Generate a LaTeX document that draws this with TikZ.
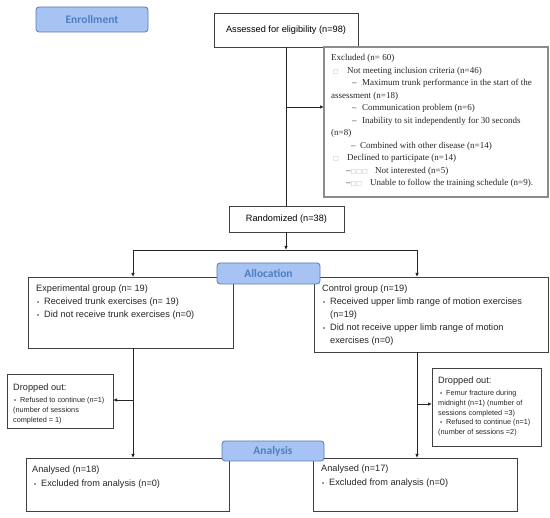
\documentclass[tikz,border=0pt]{standalone}
\usepackage{fontspec}
\setmainfont{Liberation Sans}
\newfontfamily\serifx{Liberation Serif}
\newfontfamily\labf{Carlito}
\newfontfamily\dejavu{DejaVu Sans}
\usetikzlibrary{arrows.meta}
\definecolor{labfill}{HTML}{A6C3F3}
\definecolor{labline}{HTML}{5A7AAE}
\definecolor{labtext}{HTML}{4F7EC2}
\newcommand{\sqx}{{\dejavu\fontsize{6}{6}\selectfont\textcolor{black!30}{□}}}
\newcommand{\bul}{{\fontsize{6}{6}\selectfont •}}
\tikzset{
 box/.style={draw=black!75, line width=0.7pt, fill=white, outer sep=0pt, inner sep=0pt, anchor=north west},
 exbox/.style={box, draw=black!45, line width=1.1pt},
 lab/.style={draw=labline, fill=labfill, rounded corners=3pt, line width=0.8pt, outer sep=0pt, inner sep=0pt, anchor=north west, text=labtext, font=\labf\bfseries\fontsize{11.5}{13}\selectfont},
 tx/.style={anchor=base west, inner sep=0pt, font=\fontsize{9.2}{11}\selectfont, text=black!85},
 sx/.style={anchor=base west, inner sep=0pt, font=\fontsize{7.3}{9}\selectfont, text=black!85},
 ex/.style={anchor=base west, inner sep=0pt, font=\serifx\fontsize{9}{10}\selectfont, text=black!85},
 conn/.style={draw=black!85, line width=0.8pt},
 arr/.style={conn, -{Latex[length=4pt,width=3.5pt]}},
}
\begin{document}
\begin{tikzpicture}[x=1pt,y=-1pt]
\useasboundingbox[fill=white] (0,0) rectangle (550,518);

% enrollment
\node[lab, minimum width=112pt, minimum height=25pt] (enr) at (36,7) {Enrollment};
\node[box, minimum width=144pt, minimum height=34pt, font=\fontsize{9.2}{11}\selectfont] (assess) at (214,13) {Assessed for eligibility (n=98)};

% excluded
\node[exbox, minimum width=224pt, minimum height=150pt] (excl) at (324,47) {};
\node[ex] (e1) at (331,61) {Excluded (n= 60)};
\node[ex] (e2) at (333,73.5) {\sqx};
\node[ex] (e3) at (347,73.5) {Not meeting inclusion criteria (n=46)};
\node[ex] (e4) at (352,86) {–};
\node[ex] (e5) at (362,86) {Maximum trunk performance in the start of the};
\node[ex] (e6) at (331,98.5) {assessment (n=18)};
\node[ex] (e7) at (352,111) {–};
\node[ex] (e8) at (362,111) {Communication problem (n=6)};
\node[ex] (e9) at (352,123.5) {–};
\node[ex] (e10) at (362,123.5) {Inability to sit independently for 30 seconds};
\node[ex] (e11) at (331,136) {(n=8)};
\node[ex] (e12) at (351,148.5) {–};
\node[ex] (e13) at (360,148.5) {Combined with other disease (n=14)};
\node[ex] (e14) at (333,161) {\sqx};
\node[ex] (e15) at (347,161) {Declined to participate (n=14)};
\node[ex] (e16) at (346,173.5) {–\sqx\sqx\sqx};
\node[ex] (e17) at (375,173.5) {Not interested (n=5)};
\node[ex] (e18) at (346,186) {–\sqx\sqx};
\node[ex] (e19) at (370,186) {Unable to follow the training schedule (n=9).};

% randomized
\node[box, minimum width=115pt, minimum height=26pt, font=\fontsize{9.2}{11}\selectfont] (rand) at (229,206) {Randomized (n=38)};

% groups
\node[box, minimum width=205pt, minimum height=71pt] (exp) at (28,277) {};
\node[tx] (x1) at (36,292) {Experimental group (n= 19)};
\node[tx] (x2) at (37,305) {\bul};
\node[tx] (x3) at (44,305) {Received trunk exercises (n= 19)};
\node[tx] (x4) at (37,318) {\bul};
\node[tx] (x5) at (44,318) {Did not receive trunk exercises (n=0)};

\node[box, minimum width=234pt, minimum height=75pt] (ctrl) at (314,277) {};
\node[tx] (c1) at (322,292) {Control group (n=19)};
\node[tx] (c2) at (323,305) {\bul};
\node[tx] (c3) at (330,305) {Received upper limb range of motion exercises};
\node[tx] (c4) at (330,318) {(n=19)};
\node[tx] (c5) at (323,331) {\bul};
\node[tx] (c6) at (330,331) {Did not receive upper limb range of motion};
\node[tx] (c7) at (330,344) {exercises (n=0)};

\node[lab, minimum width=103pt, minimum height=21pt] (alloc) at (217,263) {Allocation};

% dropped out
\node[box, minimum width=106pt, minimum height=54pt] (dropl) at (7,374) {};
\node[tx] (d1) at (13,391) {Dropped out:};
\node[sx] (d2) at (14,403) {\bul};
\node[sx] (d3) at (20,403) {Refused to continue (n=1)};
\node[sx] (d4) at (13,413) {(number of sessions};
\node[sx] (d5) at (13,423) {completed = 1)};

\node[box, minimum width=109pt, minimum height=78pt] (dropr) at (432,368) {};
\node[tx] (r1) at (438,384) {Dropped out:};
\node[sx] (r2) at (440,396) {\bul};
\node[sx] (r3) at (446,396) {Femur fracture during};
\node[sx] (r4) at (438,406) {midnight (n=1) (number of};
\node[sx] (r5) at (438,415.5) {sessions completed =3)};
\node[sx] (r6) at (440,425) {\bul};
\node[sx] (r7) at (446,425) {Refused to continue (n=1)};
\node[sx] (r8) at (438,435) {(number of sessions =2)};

% analysed
\node[box, minimum width=203pt, minimum height=53pt] (anl) at (26,458) {};
\node[tx] (a1) at (32,473) {Analysed (n=18)};
\node[tx] (a2) at (34,487) {\bul};
\node[tx] (a3) at (41,487) {Excluded from analysis (n=0)};

\node[box, minimum width=204pt, minimum height=53pt] (anr) at (313,458) {};
\node[tx] (b1) at (321,472) {Analysed (n=17)};
\node[tx] (b2) at (322,486) {\bul};
\node[tx] (b3) at (329,486) {Excluded from analysis (n=0)};

\node[lab, minimum width=102pt, minimum height=20pt] (analy) at (222,441) {Analysis};

% connectors
\coordinate (exin) at (286,107);
\coordinate (split) at (286,250);
\coordinate (sl) at (133,250);
\coordinate (sr) at (417,250);
\coordinate (dl) at (133,400);
\coordinate (dr) at (417,404);

\draw[conn] (assess.south) -- (assess.south |- rand.north);
\draw[arr] (exin) -- (exin -| excl.west);
\draw[arr] (assess.south |- rand.south) -- (split);
\draw[conn] (sl) -- (sr);
\draw[arr] (sl) -- (sl |- exp.north);
\draw[arr] (sr) -- (sr |- ctrl.north);
\draw[arr] (sl |- exp.south) -- (sl |- anl.north);
\draw[arr] (sr |- ctrl.south) -- (sr |- anr.north);
\draw[arr] (dl) -- (dl -| dropl.east);
\draw[arr] (dr) -- (dr -| dropr.west);
\end{tikzpicture}
\end{document}
